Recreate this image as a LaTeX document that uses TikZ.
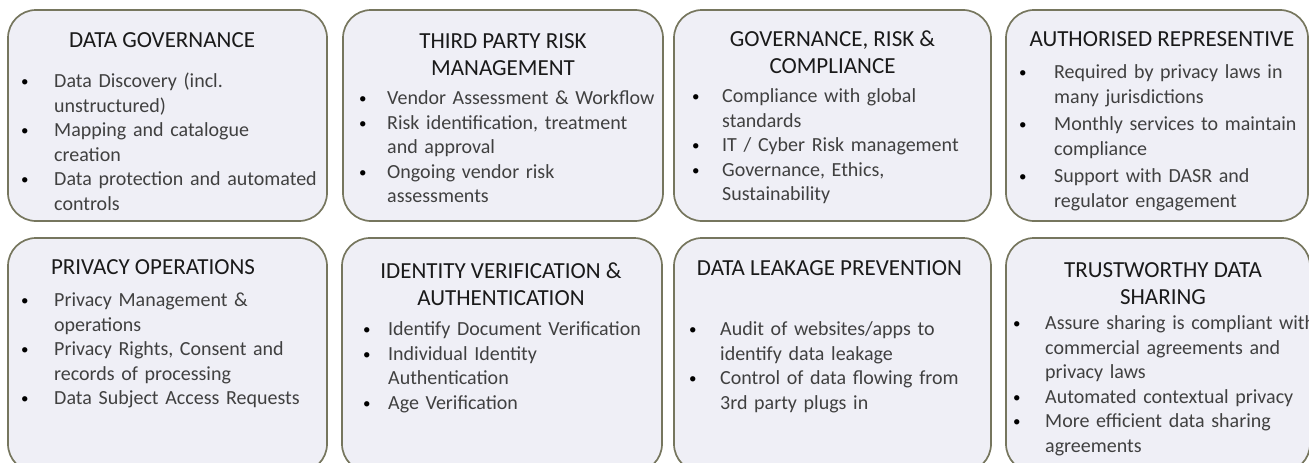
\documentclass[tikz,border=0pt]{standalone}
\usepackage{fontspec}
\setmainfont{Carlito}
\usepackage{tikz}

\definecolor{cardfill}{HTML}{EFEFF6}
\definecolor{carddraw}{HTML}{76765E}
\definecolor{headtext}{HTML}{1A1A1A}
\definecolor{itemtext}{HTML}{404040}

\newlength{\bhang}
\newcommand{\bpoint}[1]{\par\noindent\hangindent=\bhang\hangafter=1%
  \makebox[\bhang][l]{\color{black}\raisebox{1pt}{\fontsize{15}{15}\selectfont\textbullet}}\strut#1\par}

\begin{document}
\begin{tikzpicture}[x=1pt,y=-1pt,
  card/.style={draw=carddraw,fill=cardfill,line width=1.7pt,rounded corners=28pt,
    minimum height=211pt,inner sep=0pt},
  low card/.style={card,minimum height=234pt},
  head/.style={anchor=north,inner sep=0pt,align=center,text=headtext,
    font=\fontsize{23}{27}\selectfont},
  items/.style={anchor=north west,inner sep=0pt,text width=320pt,align=left,
    text=itemtext,font=\fontsize{20}{24.5}\selectfont}]

  \useasboundingbox (0,0) rectangle (1309,463);
  \clip (0,0) rectangle (1309,463);

  \node[card,minimum width=319pt] (dg) at (167.5,115.5) {};
  \node[card,minimum width=320pt] (tprm) at (503,115.5) {};
  \node[card,minimum width=317pt] (grc) at (832.5,115.5) {};
  \node[card,minimum width=302pt] (ar) at (1157,115.5) {};
  \node[low card,minimum width=319pt] (po) at (167.5,355) {};
  \node[low card,minimum width=320pt] (iva) at (502,355) {};
  \node[low card,minimum width=317pt] (dlp) at (832.5,355) {};
  \node[low card,minimum width=304pt] (tds) at (1158,355) {};

  \node[head] (dg-h) at (162,28) {\strut DATA GOVERNANCE};
  \node[head] (tprm-h) at (503,29) {\strut THIRD PARTY RISK\\MANAGEMENT};
  \node[head] (grc-h) at (832.5,27) {\strut GOVERNANCE, RISK \&\\COMPLIANCE};
  \node[head] (ar-h) at (1162,27) {\strut AUTHORISED REPRESENTIVE};
  \node[head] (po-h) at (153,255) {\strut PRIVACY OPERATIONS};
  \node[head] (iva-h) at (501,259) {\strut IDENTITY VERIFICATION \&\\AUTHENTICATION};
  \node[head] (dlp-h) at (829.5,256) {\strut DATA LEAKAGE PREVENTION};
  \node[head] (tds-h) at (1163,258) {\strut TRUSTWORTHY DATA\\SHARING};

  \node[items] (dg-l) at (21,63) {\setlength{\bhang}{33pt}%
    \bpoint{Data Discovery (incl.\newline unstructured)}
    \bpoint{Mapping and catalogue\newline creation}
    \bpoint{Data protection and automated\newline controls}};
  \node[items] (tprm-l) at (359,80) {\setlength{\bhang}{28pt}%
    \bpoint{Vendor Assessment \& Workflow}
    \bpoint{Risk identification, treatment\newline and approval}
    \bpoint{Ongoing vendor risk\newline assessments}};
  \node[items] (grc-l) at (692,78) {\setlength{\bhang}{30pt}%
    \bpoint{Compliance with global\newline standards}
    \bpoint{IT / Cyber Risk management}
    \bpoint{Governance, Ethics,\newline Sustainability}};
  \node[items] (ar-l) at (1019,51) {\setlength{\bhang}{35pt}\setlength{\parskip}{3pt}%
    \bpoint{Required by privacy laws in\newline many jurisdictions}
    \bpoint{Monthly services to maintain\newline compliance}
    \bpoint{Support with DASR and\newline regulator engagement}};
  \node[items] (po-l) at (21,282) {\setlength{\bhang}{33pt}%
    \bpoint{Privacy Management \&\newline operations}
    \bpoint{Privacy Rights, Consent and\newline records of processing}
    \bpoint{Data Subject Access Requests}};
  \node[items] (iva-l) at (363,311) {\setlength{\bhang}{25pt}%
    \bpoint{Identify Document Verification}
    \bpoint{Individual Identity\newline Authentication}
    \bpoint{Age Verification}};
  \node[items] (dlp-l) at (689,311) {\setlength{\bhang}{31pt}%
    \bpoint{Audit of websites/apps to\newline identify data leakage}
    \bpoint{Control of data flowing from\newline 3rd party plugs in}};
  \node[items] (tds-l) at (1013,305) {\setlength{\bhang}{32pt}%
    \bpoint{Assure sharing is compliant with\newline commercial agreements and\newline privacy laws}
    \bpoint{Automated contextual privacy}
    \bpoint{More efficient data sharing\newline agreements}};
\end{tikzpicture}
\end{document}
